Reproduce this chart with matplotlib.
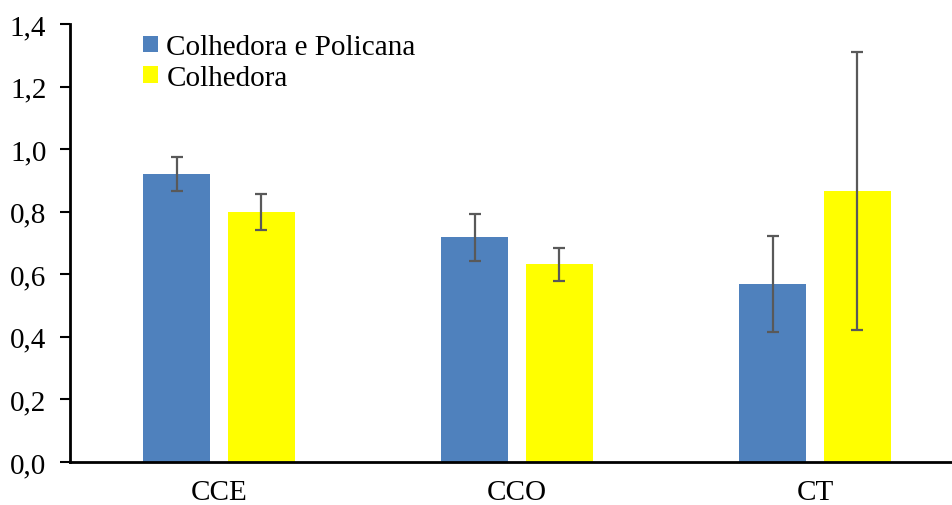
import matplotlib.pyplot as plt
import numpy as np

categories = ['CCE', 'CCO', 'CT']
series_names = ['Colhedora e Policana', 'Colhedora']
policana = [0.92, 0.719, 0.569]
policana_err = [0.055, 0.075, 0.152]
colhedora = [0.80, 0.632, 0.866]
colhedora_err = [0.057, 0.053, 0.445]
yticks = [0.0, 0.2, 0.4, 0.6, 0.8, 1.0, 1.2, 1.4]

plt.rcParams['font.family'] = ['Liberation Serif', 'DejaVu Serif']

fig = plt.figure(figsize=(9.52, 5.06), dpi=100)
ax = fig.add_axes([70 / 952, 1 - 463 / 506, 882 / 952, 438 / 506])

x = np.arange(len(categories))
w = 0.225
off = 0.142
err_kw = dict(ecolor='#595959', elinewidth=1.6, capsize=4.5, capthick=1.6)
ax.bar(x - off, policana, w, yerr=policana_err, color='#4F81BD',
       label=series_names[0], error_kw=err_kw)
ax.bar(x + off, colhedora, w, yerr=colhedora_err, color='#FFFF00',
       label=series_names[1], error_kw=err_kw)

ax.set_xlim(-0.5, 2.46)
ax.set_ylim(0, 1.4)
ax.set_yticks(yticks)
ax.set_yticklabels([f'{v:.1f}'.replace('.', ',') for v in yticks])
ax.set_xticks(x)
ax.set_xticklabels(categories)
ax.tick_params(axis='y', direction='out', length=7, width=1.5, labelsize=21, pad=10)
ax.tick_params(axis='x', length=0, labelsize=21, pad=12)

for s in ['top', 'right']:
    ax.spines[s].set_visible(False)
ax.spines['left'].set_linewidth(2)
ax.spines['bottom'].set_linewidth(2)

leg = ax.legend(loc='upper left', bbox_to_anchor=(0.053, 1.036), frameon=False,
                fontsize=21, handlelength=0.5, handleheight=0.5,
                handletextpad=0.3, labelspacing=0.15)

fig.savefig('out.png', dpi=100)
